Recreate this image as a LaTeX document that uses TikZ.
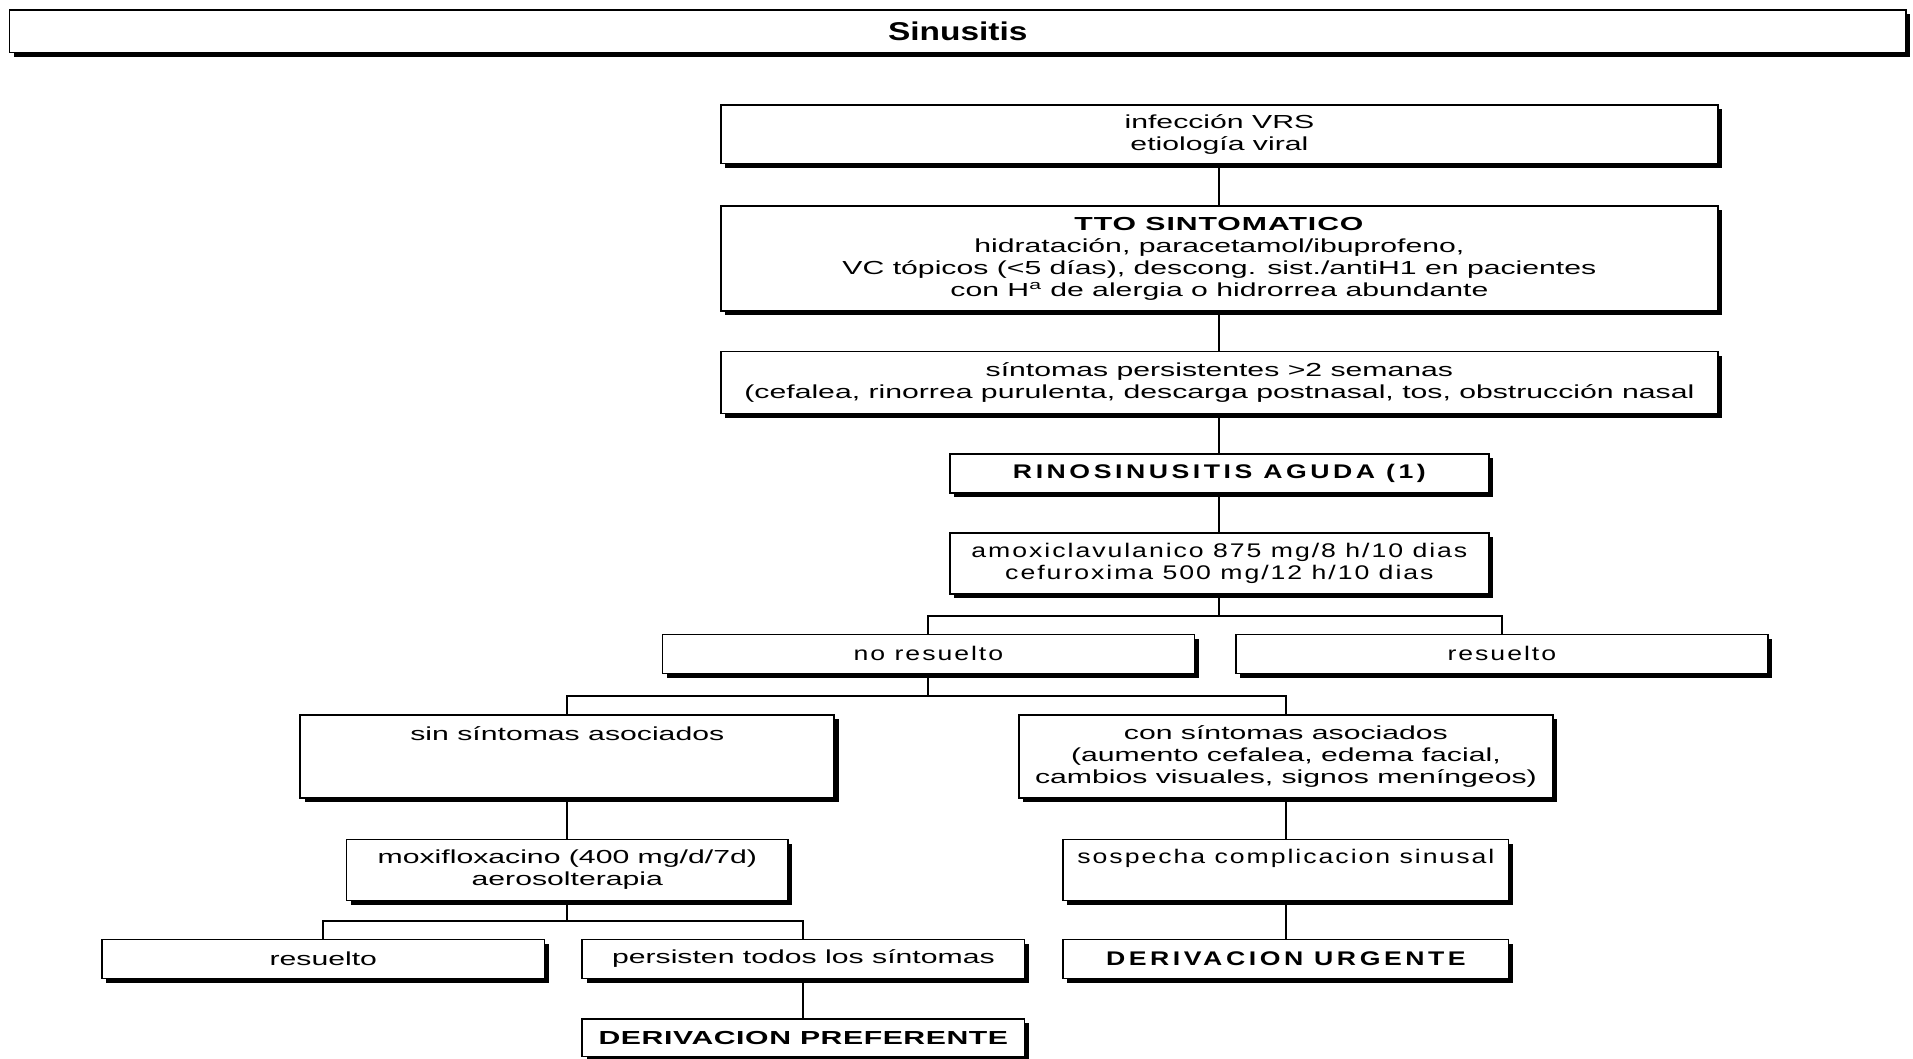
\documentclass[tikz,border=0pt]{standalone}
\usepackage{fontspec}
\setmainfont{Liberation Sans}[FakeStretch=1.6]
\newfontfamily\widefont{Liberation Sans}[FakeStretch=1.35,LetterSpace=10]
\newfontfamily\titlefont{Liberation Sans}[FakeStretch=1.3]
\usetikzlibrary{shadows}

\begin{document}
\begin{tikzpicture}[x=0.025cm,y=0.025cm,line width=1.2pt,
    box/.style={draw,fill=white,align=center,inner sep=2pt,line width=1pt,
        font=\fontsize{11}{12.8}\selectfont,
        general shadow={fill=black,shadow xshift=2.5pt,shadow yshift=-2.5pt}},
    widebox/.style={box,font=\widefont\fontsize{11.5}{12.8}\selectfont}]
    \useasboundingbox (0,0) rectangle (1568,-868);
    % title bar
    \node[box,minimum width=38.85cm,minimum height=0.875cm,font=\titlefont\bfseries\fontsize{15}{16}\selectfont] (title) at (785,-25.5) {Sinusitis};
    % main column
    \node[box,minimum width=20.425cm,minimum height=1.2cm] (viral) at (999.5,-110) {infección VRS\\etiología viral};
    \node[box,minimum width=20.425cm,minimum height=2.15cm] (tto) at (999.5,-212) {\textbf{\addfontfeature{LetterSpace=5}TTO SINTOMATICO}\\hidratación, paracetamol/ibuprofeno,\\VC tópicos (<5 días), descong. sist./antiH1 en pacientes\\con H\textsuperscript{a} de alergia o hidrorrea abundante};
    \node[box,minimum width=20.425cm,minimum height=1.275cm] (persist) at (999.5,-313.5) {síntomas persistentes >2 semanas\\(cefalea, rinorrea purulenta, descarga postnasal, tos, obstrucción nasal};
    \node[widebox,minimum width=11.05cm,minimum height=0.8cm] (rino) at (999.5,-388) {\bfseries\addfontfeature{LetterSpace=18}RINOSINUSITIS AGUDA (1)};
    \node[widebox,minimum width=11.05cm,minimum height=1.25cm] (amox) at (999.5,-462) {amoxiclavulanico 875 mg/8 h/10 dias\\cefuroxima 500 mg/12 h/10 dias};
    % first split
    \node[widebox,minimum width=10.9cm,minimum height=0.8cm] (nores) at (761,-536) {no resuelto};
    \node[widebox,minimum width=10.9cm,minimum height=0.8cm] (res1) at (1231,-536) {resuelto};
    % second split
    \node[box,minimum width=10.94cm,minimum height=1.7cm,text depth=0.95cm] (sin) at (465,-620) {sin síntomas asociados};
    \node[box,minimum width=10.94cm,minimum height=1.7cm] (con) at (1054,-620) {con síntomas asociados\\(aumento cefalea, edema facial,\\cambios visuales, signos meníngeos)};
    % left branch
    \node[box,minimum width=9.05cm,minimum height=1.25cm] (moxi) at (465,-713) {moxifloxacino (400 mg/d/7d)\\aerosolterapia};
    \node[box,minimum width=9.06cm,minimum height=0.8cm] (res2) at (265,-786) {resuelto};
    \node[box,minimum width=9.06cm,minimum height=0.8cm] (persiste) at (658.5,-786) {persisten todos los síntomas};
    \node[box,minimum width=9.06cm,minimum height=0.775cm] (dpref) at (658.5,-850.5) {\bfseries\addfontfeature{LetterSpace=3}DERIVACION PREFERENTE};
    % right branch
    \node[widebox,minimum width=9.125cm,minimum height=1.25cm,text depth=0.55cm] (sosp) at (1054,-713) {sospecha complicacion sinusal};
    \node[widebox,minimum width=9.125cm,minimum height=0.8cm] (durg) at (1054,-786) {\bfseries\addfontfeature{LetterSpace=18}DERIVACION URGENTE};
    % connectors
    \draw (viral) -- (tto);
    \draw (tto) -- (persist);
    \draw (persist) -- (rino);
    \draw (rino) -- (amox);
    \draw (amox.south) -- ++(0,-17) -| (nores.north);
    \draw (amox.south) -- ++(0,-17) -| (res1.north);
    \draw (nores.south) -- ++(0,-18) -| (sin.north);
    \draw (nores.south) -- ++(0,-18) -| (con.north);
    \draw (sin) -- (moxi);
    \draw (moxi.south) -- ++(0,-16) -| (res2.north);
    \draw (moxi.south) -- ++(0,-16) -| (persiste.north);
    \draw (persiste) -- (dpref);
    \draw (con) -- (sosp);
    \draw (sosp) -- (durg);
\end{tikzpicture}
\end{document}
